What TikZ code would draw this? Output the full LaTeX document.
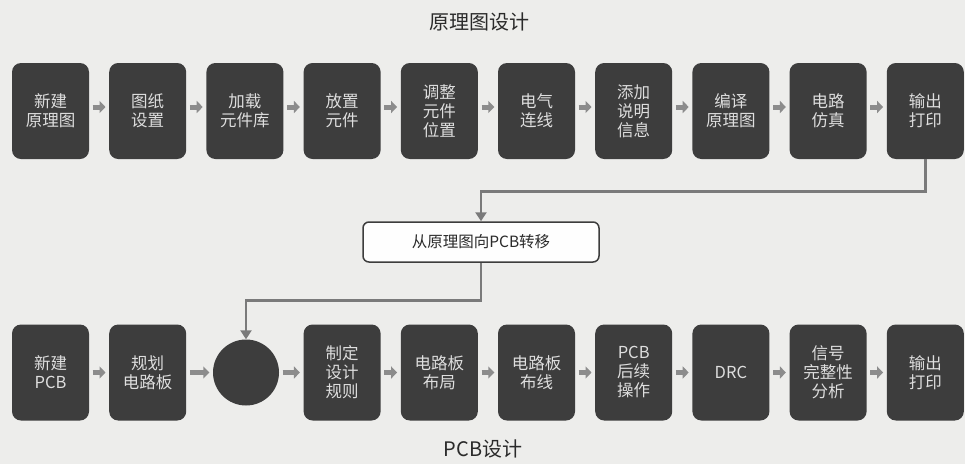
\documentclass[tikz,border=0pt]{standalone}
\usepackage{fontspec}
\setmainfont{Noto Sans CJK SC}
\usetikzlibrary{arrows.meta,calc}
\definecolor{bgc}{HTML}{EDEDEB}
\definecolor{boxc}{HTML}{3D3D3D}
\definecolor{boxtext}{HTML}{DEDEDE}
\definecolor{arrc}{HTML}{8C8C8C}
\definecolor{connc}{HTML}{7A7A7A}
\definecolor{titlec}{HTML}{2A2A2A}
\begin{document}
\begin{tikzpicture}[x=1pt,y=-1pt,
  stepbox/.style={rectangle, rounded corners=9pt, fill=boxc, minimum width=77pt, minimum height=96pt,
    text=boxtext, font=\fontsize{16.5}{19}\selectfont, align=center, inner sep=0pt},
  hubc/.style={circle, fill=boxc, minimum size=66pt, inner sep=0pt},
  small/.style={line width=5pt, draw=arrc, -{Triangle[length=6pt,width=12pt]}, shorten <=3.5pt, shorten >=3.5pt},
  conn/.style={line width=2.6pt, draw=connc, -{Triangle[length=9pt,width=11pt]}},
  xferbox/.style={rectangle, rounded corners=6pt, draw=boxc, line width=1.5pt, fill=white!96!bgc,
    minimum width=236pt, minimum height=40pt, font=\fontsize{15.5}{18}\selectfont, text=titlec, inner sep=0pt},
  titletext/.style={font=\fontsize{20}{24}\selectfont, text=titlec}
]
\fill[bgc] (0,0) rectangle (965,464);
\useasboundingbox (0,0) rectangle (965,464);

\node[titletext] (ttop) at (479,22) {原理图设计};
\node[titletext] (tbot) at (483,449) {PCB设计};

% top row
\foreach \i/\txt in {1/{新建\\原理图},2/{图纸\\设置},3/{加载\\元件库},4/{放置\\元件},5/{调整\\元件\\位置},
  6/{电气\\连线},7/{添加\\说明\\信息},8/{编译\\原理图},9/{电路\\仿真},10/{输出\\打印}}
  \node[stepbox] (t\i) at ({50.5+97.2*(\i-1)},111) {\txt};

% bottom row
\foreach \i/\txt in {1/{新建\\PCB},2/{规划\\电路板},4/{制定\\设计\\规则},5/{电路板\\布局},6/{电路板\\布线},
  7/{PCB\\后续\\操作},8/{DRC},9/{信号\\完整性\\分析},10/{输出\\打印}}
  \node[stepbox] (b\i) at ({50.5+97.2*(\i-1)},372.5) {\txt};
\node[hubc] (b3) at (246,372.5) {};

% small arrows
\foreach \a/\b in {1/2,2/3,3/4,4/5,5/6,6/7,7/8,8/9,9/10}{
  \draw[small] ([yshift=4pt]t\a.east) -- ([yshift=4pt]t\b.west);
  \draw[small] (b\a.east) -- (b\b.west);
}

% transfer
\node[xferbox] (xfer) at (481,242) {从原理图向PCB转移};
\draw[conn] (t10.south) -- ++(0,32) -| (xfer.north);
\draw[conn] (xfer.south) -- ++(0,38) -| (b3.north);
\end{tikzpicture}
\end{document}
